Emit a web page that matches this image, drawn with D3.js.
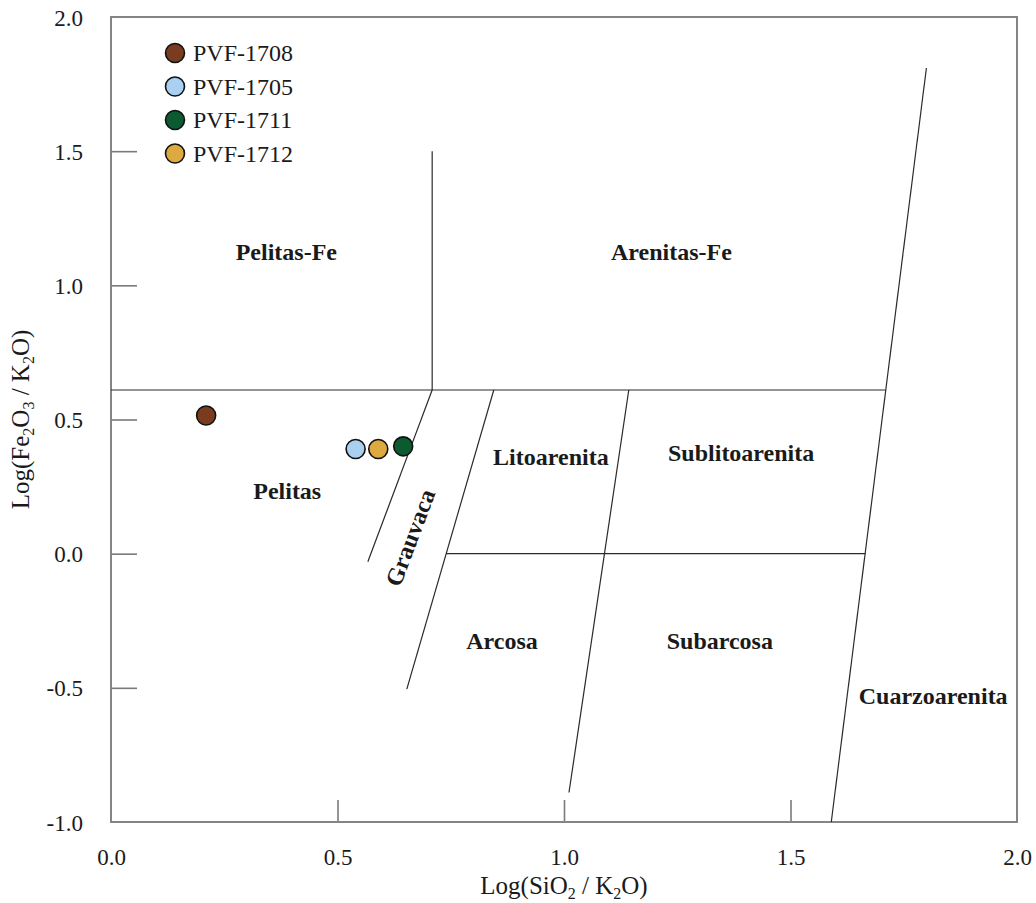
<!DOCTYPE html>
<html lang="en">
<head>
    <meta charset="utf-8">
    <title>Herron diagram</title>
    <style>
        body {
          margin:0;
          background:white;
          font-family: 'Liberation Serif', 'Times New Roman', serif;
        }
        svg text {
          fill:#1a1a1a;
        }
        .zone {
          font-size:24px;
          font-weight:bold;
        }
    </style>
</head>
<body>
<div id="canvas"></div>
<script src="https://cdnjs.cloudflare.com/ajax/libs/d3/7.8.5/d3.min.js"></script>
<script>
    // samples
    var samples = ["PVF-1708", "PVF-1705", "PVF-1711", "PVF-1712"],
        sampleX = [0.21, 0.54, 0.645, 0.59],
        sampleY = [0.515, 0.39, 0.40, 0.39],
        sampleColors = ["#7a3c1e", "#a9d0f0", "#0c5a30", "#dcaa3e"];

    // field boundaries [x1, y1, x2, y2]
    var boundaries = [
      [0, 0.61, 1.71, 0.61],
      [0.709, 0.61, 0.709, 1.5],
      [0.709, 0.61, 0.567, -0.03],
      [0.845, 0.61, 0.653, -0.505],
      [0.74, 0, 1.665, 0],
      [1.143, 0.61, 1.011, -0.89],
      [1.59, -1.0, 1.80, 1.81]
    ];

    // field names and where they sit
    var zoneNames = ["Pelitas-Fe", "Arenitas-Fe", "Pelitas", "Litoarenita", "Sublitoarenita",
                     "Arcosa", "Subarcosa", "Cuarzoarenita", "Grauvaca"],
        zoneX = [0.387, 1.237, 0.389, 0.971, 1.391, 0.863, 1.344, 1.815, 0.66],
        zoneY = [1.127, 1.127, 0.235, 0.362, 0.377, -0.325, -0.325, -0.53, 0.06],
        zoneAngle = [0, 0, 0, 0, 0, 0, 0, 0, -69.4];

    var xTicks = [0, 0.5, 1.0, 1.5, 2.0],
        yTicks = [-1.0, -0.5, 0, 0.5, 1.0, 1.5, 2.0];

    var margin = {top:17, right:19, bottom:81, left:111},
        width = 1036 - margin.left - margin.right,
        height = 903 - margin.top - margin.bottom;

    var serif = "'Liberation Serif', 'Times New Roman', serif";

    var x = d3.scaleLinear().domain([0, 2]).range([0, width]),
        y = d3.scaleLinear().domain([-1, 2]).range([height, 0]);

    // plain hyphen for negatives, like the original
    var fmt = function(d) { return d3.format(".1f")(d).replace("\u2212", "-"); };

    var svg = d3.select("#canvas").append("svg")
        .attr("width", 1036)
        .attr("height", 903)
      .append("g")
        .attr("transform", "translate(" + margin.left + "," + margin.top + ")");

    //Axes: inward ticks, labels placed by hand
    var yAxis = svg.append("g")
        .call(d3.axisRight(y).tickValues(yTicks).tickSize(26).tickFormat(fmt));
    yAxis.select(".domain").remove();
    yAxis.selectAll(".tick line")
        .attr("stroke", "#7a7a7a")
        .attr("stroke-width", 1.6)
        .filter(function(d) { return d == 2 || d == -1; }).remove();
    yAxis.selectAll(".tick text")
        .attr("x", -28)
        .attr("dy", "0.35em")
        .style("font-family", serif)
        .style("font-size", "23px")
        .style("text-anchor", "end");

    var xAxis = svg.append("g")
        .attr("transform", "translate(0," + height + ")")
        .call(d3.axisTop(x).tickValues(xTicks).tickSize(22).tickFormat(fmt));
    xAxis.select(".domain").remove();
    xAxis.selectAll(".tick line")
        .attr("stroke", "#7a7a7a")
        .attr("stroke-width", 1.6)
        .filter(function(d) { return d == 0 || d == 2; }).remove();
    xAxis.selectAll(".tick text")
        .attr("y", 35)
        .attr("dy", "0.35em")
        .style("font-family", serif)
        .style("font-size", "23px");

    //Frame
    svg.append("rect")
        .attr("x", 0)
        .attr("y", 0)
        .attr("width", width)
        .attr("height", height)
        .attr("fill", "none")
        .attr("stroke", "#858585")
        .attr("stroke-width", 2);

    //Field boundaries
    svg.selectAll("line.boundary")
        .data(boundaries)
      .enter().append("line")
        .attr("class", "boundary")
        .attr("x1", function(d) { return x(d[0]); })
        .attr("y1", function(d) { return y(d[1]); })
        .attr("x2", function(d) { return x(d[2]); })
        .attr("y2", function(d) { return y(d[3]); })
        .attr("stroke", "#2a2a2a")
        .attr("stroke-width", 1.2);

    //Field names
    svg.selectAll("text.zone")
        .data(zoneNames)
      .enter().append("text")
        .attr("class", "zone")
        .attr("transform", function(d, i) {
          return "translate(" + x(zoneX[i]) + "," + y(zoneY[i]) + ") rotate(" + zoneAngle[i] + ")";
        })
        .attr("dy", "0.35em")
        .style("text-anchor", "middle")
        .text(function(d) { return d; });

    //Samples
    svg.selectAll("circle.sample")
        .data(samples)
      .enter().append("circle")
        .attr("class", "sample")
        .attr("r", 9.5)
        .attr("cx", function(d, i) { return x(sampleX[i]); })
        .attr("cy", function(d, i) { return y(sampleY[i]); })
        .attr("fill", function(d, i) { return sampleColors[i]; })
        .attr("stroke", "#111")
        .attr("stroke-width", 1.6);

    //Legend
    var legend = svg.append("g")
        .attr("transform", "translate(64,36)");
    var rows = legend.selectAll("g")
        .data(samples)
      .enter().append("g")
        .attr("transform", function(d, i) { return "translate(0," + (i * 33.5) + ")"; });
    rows.append("circle")
        .attr("r", 9.5)
        .attr("fill", function(d, i) { return sampleColors[i]; })
        .attr("stroke", "#111")
        .attr("stroke-width", 1.6);
    rows.append("text")
        .attr("x", 18)
        .attr("dy", "0.35em")
        .style("font-size", "24px")
        .text(function(d) { return d; });

    //Axis titles
    var xt = svg.append("text")
        .attr("x", width / 2)
        .attr("y", height + 72)
        .style("text-anchor", "middle")
        .style("font-size", "25px");
    xt.append("tspan").text("Log(SiO");
    xt.append("tspan").attr("dy", 5).style("font-size", "16px").text("2");
    xt.append("tspan").attr("dy", -5).text(" / K");
    xt.append("tspan").attr("dy", 5).style("font-size", "16px").text("2");
    xt.append("tspan").attr("dy", -5).text("O)");

    var yt = svg.append("text")
        .attr("transform", "translate(" + (-82) + "," + y(0.5) + ") rotate(-90)")
        .style("text-anchor", "middle")
        .style("font-size", "25px");
    yt.append("tspan").text("Log(Fe");
    yt.append("tspan").attr("dy", 5).style("font-size", "16px").text("2");
    yt.append("tspan").attr("dy", -5).text("O");
    yt.append("tspan").attr("dy", 5).style("font-size", "16px").text("3");
    yt.append("tspan").attr("dy", -5).text(" / K");
    yt.append("tspan").attr("dy", 5).style("font-size", "16px").text("2");
    yt.append("tspan").attr("dy", -5).text("O)");
</script>
</body>
</html>
